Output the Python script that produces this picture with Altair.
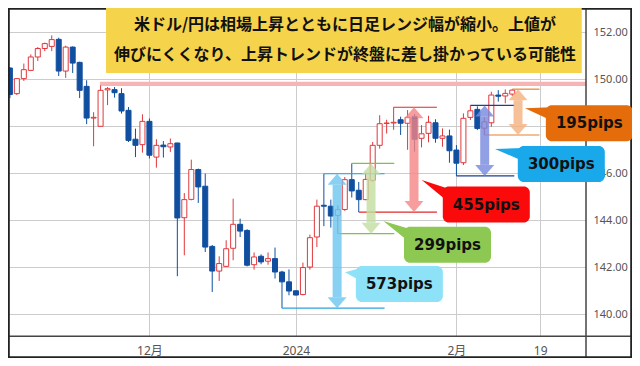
import altair as alt
import pandas as pd

# ---------------- data: USD/JPY daily candles (trading-day index 0..73) ----------------
opens = [150.93, 150.48, 149.39, 150.03, 150.38, 150.95, 151.31, 151.40, 151.70, 150.35,
         151.37, 150.72, 149.70, 148.35, 148.00, 149.55, 149.56, 149.39, 148.68, 147.45,
         147.22, 148.21, 146.69, 147.20, 147.12, 147.29, 144.11, 144.89, 146.16, 145.45,
         142.89, 141.84, 142.04, 142.81, 143.83, 143.57, 142.11, 142.47, 142.26, 142.37,
         141.80, 141.38, 141.00, 140.84, 142.01, 143.29, 144.64, 144.60, 144.21, 144.46,
         145.73, 145.28, 144.88, 145.70, 147.19, 148.12, 148.14, 148.28, 148.13, 148.41,
         147.49, 147.70, 148.15, 147.49, 147.59, 146.99, 146.45, 148.38, 148.72, 147.92,
         148.15, 149.33, 149.29, 149.37]
highs = [151.05, 150.52, 150.05, 150.67, 151.06, 151.37, 151.56, 151.87, 151.77, 151.43,
         151.40, 150.75, 149.96, 148.60, 149.74, 149.67, 149.67, 149.62, 148.82, 147.90,
         148.51, 148.33, 147.45, 147.37, 147.48, 147.30, 145.16, 146.58, 146.20, 145.99,
         142.95, 142.47, 143.15, 144.92, 144.07, 143.62, 142.63, 142.55, 142.63, 142.84,
         141.85, 141.91, 141.02, 142.20, 143.39, 144.88, 145.98, 144.88, 144.64, 145.84,
         146.42, 145.63, 146.01, 147.33, 148.47, 148.28, 148.81, 148.41, 148.69, 148.52,
         148.05, 148.45, 148.30, 147.91, 147.86, 147.20, 148.55, 148.89, 148.85, 148.38,
         149.47, 149.54, 149.57, 149.58]
lows = [150.40, 149.20, 149.33, 149.93, 150.35, 150.78, 151.20, 151.20, 150.14, 150.06,
        150.27, 149.20, 148.09, 147.15, 148.00, 148.90, 149.22, 148.54, 147.33, 146.69,
        146.88, 146.63, 146.24, 146.67, 146.91, 141.62, 142.51, 144.85, 144.74, 142.65,
        140.95, 141.42, 142.04, 142.30, 143.29, 142.04, 141.90, 142.13, 142.11, 141.52,
        140.26, 140.81, 140.80, 140.81, 141.90, 142.86, 143.75, 143.69, 143.43, 144.40,
        144.97, 144.35, 144.85, 145.63, 147.05, 147.69, 147.85, 147.63, 147.00, 146.92,
        147.10, 147.32, 147.30, 147.13, 146.45, 145.89, 146.35, 148.27, 147.84, 147.63,
        147.98, 149.05, 148.98, 149.29]
closes = [150.46, 149.35, 150.03, 150.41, 150.95, 151.31, 151.52, 151.69, 150.35, 151.37,
          150.69, 149.53, 148.35, 148.38, 149.53, 149.60, 149.43, 148.65, 147.40, 147.19,
          148.21, 146.77, 147.19, 147.13, 147.26, 144.10, 144.88, 146.16, 145.42, 142.86,
          141.84, 142.16, 142.79, 143.83, 143.54, 142.09, 142.44, 142.23, 142.37, 141.80,
          141.38, 140.99, 140.82, 141.99, 143.26, 144.60, 144.60, 144.18, 144.45, 145.73,
          145.25, 144.88, 145.74, 147.19, 148.11, 148.14, 148.17, 148.13, 148.38, 147.45,
          147.68, 148.17, 147.49, 147.59, 146.96, 146.43, 148.34, 148.66, 147.91, 148.19,
          149.33, 149.28, 149.40, 149.54]

tick_pos = [21, 42, 65, 77]
tick_text = ["12月", "2024", "2月", "19"]
y_ticks = [140, 142, 144, 146, 148, 150, 152]
y_hidden = [148]  # label covered by the 195pips callout in the original

title_lines = ["米ドル/円は相場上昇とともに日足レンジ幅が縮小。上値が",
               "伸びにくくなり、上昇トレンドが終盤に差し掛かっている可能性"]

range_labels = ["573pips", "299pips", "455pips", "300pips", "195pips"]
range_high = [145.98, 146.42, 148.81, 148.89, 149.58]
range_low = [140.26, 143.43, 144.35, 145.89, 147.63]
high_idx = [46, 50, 56, 67, 73]
low_idx = [40, 48, 51, 65, 69]

resistance_band = [149.71, 149.90]
band_from = 13.9

# ---------------- annotation placement (data units) ----------------
line_end = [54.7, 56.1, 62.2, 73.3, 76.9]
arrow_x = [47.9, 52.76, 58.92, 69.05, 73.83]
box_x = [56.82, 63.72, 69.28, 80.03, 84.05]
box_y = [141.29, 142.96, 144.67, 146.40, 148.13]
tip_x = [49.03, 54.52, 60.03, 70.53, 74.83]
tip_y = [141.79, 143.97, 145.71, 147.03, 148.77]
title_x = [14.78, 82.96]
title_bottom = 150.268
title_text_x = 49.03
title_text_y = [152.31, 151.034]

# ---------------- styles ----------------
RED = "#E0383C"
BLUE = "#104FA0"
line_colors = ["#2AA3DA", "#86BE4E", "#E02828", "#1F3C8F", "#E8802E"]
arrow_colors = ["#6CC6F0", "#C2DEA0", "#F68484", "#7688DD", "#F4B27E"]
box_colors = ["#8EE2F8", "#8DC852", "#FA0A0A", "#19A8EA", "#E46C0A"]

X_DOM = [0.731, 83.57]
Y_DOM = [139.064, 153.034]
W, H = 578, 328.3
KPX = W / (X_DOM[1] - X_DOM[0])
VPX = H / (Y_DOM[1] - Y_DOM[0])
SW, SH = 624, 350

xs = alt.Scale(domain=X_DOM, nice=False, zero=False)
ys = alt.Scale(domain=Y_DOM, nice=False, zero=False)

label_expr = " : ".join(f"datum.value == {p} ? '{t}'" for p, t in zip(tick_pos, tick_text)) + " : ''"
y_label_expr = " || ".join(f"datum.value == {v}" for v in y_hidden) + " ? '' : format(datum.value, '.2f')"
x_axis = alt.Axis(values=tick_pos, labelExpr=label_expr, grid=True, gridColor="#cccccc",
                  gridWidth=1, ticks=False, tickSize=0, domain=False,
                  labelFont="Noto Sans, Noto Sans CJK JP", labelFontSize=12,
                  labelColor="#555555", labelPadding=14, labelBaseline="middle",
                  labelFlush=False, labelOverlap=False, title=None, zindex=0)
y_axis = alt.Axis(values=y_ticks, labelExpr=y_label_expr, orient="right", grid=True,
                  gridColor="#cccccc", gridWidth=1, ticks=False, tickSize=0,
                  domain=False, labelFont="Noto Sans", labelFontSize=11,
                  labelColor="#555555", labelPadding=7, title=None, zindex=0)


def X(f):
    return alt.X(f, type="quantitative", scale=xs, axis=x_axis)


def Y(f):
    return alt.Y(f, type="quantitative", scale=ys, axis=y_axis)


# ---------------- tables ----------------
df = pd.DataFrame({"i": list(range(len(opens))), "open": opens, "high": highs,
                   "low": lows, "close": closes})
df["dir"] = ["up" if c >= o else "down" for o, c in zip(opens, closes)]
df["i0"] = df["i"] - 0.36
df["i1"] = df["i"] + 0.36
df["bot"] = df[["open", "close"]].min(axis=1)
df["top"] = df[["open", "close"]].max(axis=1)

band_df = pd.DataFrame({"x0": [band_from], "x1": [X_DOM[1]],
                        "y0": [resistance_band[0]], "y1": [resistance_band[1]]})

lines_rows = []
for lab, hi, lo, hx, lx, e in zip(range_labels, range_high, range_low, high_idx, low_idx, line_end):
    lines_rows.append({"label": lab, "x0": hx, "x1": e, "y": hi})
    lines_rows.append({"label": lab, "x0": lx, "x1": e, "y": lo})
lines_df = pd.DataFrame(lines_rows)

HEAD_V = 11 / VPX
shaft_df = pd.DataFrame({"label": range_labels, "x": arrow_x,
                         "y0": [h - HEAD_V for h in range_high],
                         "y1": [l + HEAD_V for l in range_low]})
heads_rows = []
for lab, ax, hi, lo in zip(range_labels, arrow_x, range_high, range_low):
    heads_rows.append({"label": lab, "x": ax, "y": hi, "dir": "up"})
    heads_rows.append({"label": lab, "x": ax, "y": lo, "dir": "down"})
heads_df = pd.DataFrame(heads_rows)

BW = 43.5 / KPX
BH = 18 / VPX
box_df = pd.DataFrame({"label": range_labels, "cx": box_x, "cy": box_y,
                       "x0": [b - BW for b in box_x], "x1": [b + BW for b in box_x],
                       "y0": [b - BH for b in box_y], "y1": [b + BH for b in box_y]})
tail_rows = []
for lab, bx, by, tx, ty in zip(range_labels, box_x, box_y, tip_x, tip_y):
    tail_rows.append({"label": lab, "x": tx, "ya": ty, "yb": ty})
    tail_rows.append({"label": lab, "x": bx - BW + 5 / KPX,
                      "ya": by + BH - 2 / VPX, "yb": by + BH - 15 / VPX})
tail_df = pd.DataFrame(tail_rows)

title_box_df = pd.DataFrame({"x0": [title_x[0]], "x1": [title_x[1]],
                             "y0": [title_bottom], "y1": [Y_DOM[1]]})
title_df = pd.DataFrame({"x": [title_text_x] * 2, "y": title_text_y, "t": title_lines})

dummy = pd.DataFrame({"a": [0]})

# ---------------- layers ----------------
band = alt.Chart(band_df).mark_rect(color="#F7B4B4", clip=True).encode(
    x=X("x0"), x2="x1", y=Y("y0"), y2="y1")

wick = alt.Chart(df).mark_rule(strokeWidth=1, clip=True).encode(
    x=X("i"), y=Y("low"), y2="high",
    color=alt.Color("dir:N", scale=alt.Scale(domain=["up", "down"], range=[RED, BLUE]), legend=None))

body = alt.Chart(df).mark_rect(strokeWidth=1, clip=True).encode(
    x=X("i0"), x2="i1", y=Y("bot"), y2="top",
    fill=alt.Fill("dir:N", scale=alt.Scale(domain=["up", "down"], range=["#ffffff", BLUE]), legend=None),
    stroke=alt.Stroke("dir:N", scale=alt.Scale(domain=["up", "down"], range=[RED, BLUE]), legend=None))

lab_line_scale = alt.Scale(domain=range_labels, range=line_colors)
lab_arrow_scale = alt.Scale(domain=range_labels, range=arrow_colors)
lab_box_scale = alt.Scale(domain=range_labels, range=box_colors)

rng_lines = alt.Chart(lines_df).mark_rule(strokeWidth=1.2, clip=False).encode(
    x=X("x0"), x2="x1", y=Y("y"),
    color=alt.Color("label:N", scale=lab_line_scale, legend=None))

shafts = alt.Chart(shaft_df).mark_rule(strokeWidth=9, opacity=0.8, strokeCap="butt").encode(
    x=X("x"), y=Y("y0"), y2="y1",
    color=alt.Color("label:N", scale=lab_arrow_scale, legend=None))

UP_PATH = "M0,0L1,1.158L-1,1.158Z"
DOWN_PATH = "M0,0L1,-1.158L-1,-1.158Z"
heads = alt.Chart(heads_df).mark_point(filled=True, size=361, opacity=0.8).encode(
    x=X("x"), y=Y("y"),
    color=alt.Color("label:N", scale=lab_arrow_scale, legend=None),
    shape=alt.Shape("dir:N", scale=alt.Scale(domain=["up", "down"], range=[UP_PATH, DOWN_PATH]), legend=None))


def rule_px(x1, x2, y1, y2, color, w):
    return alt.Chart(dummy).mark_rule(color=color, strokeWidth=w, clip=False).encode(
        x=alt.value(x1), x2=alt.value(x2), y=alt.value(y1), y2=alt.value(y2))


frame = [
    rule_px(0, SW, H, H, "#444444", 1.5),            # x-axis base line
    rule_px(W, W, 0, SH, "#444444", 1.5),            # y-axis line
    rule_px(0, SW, 0.9, 0.9, "#222222", 1.8),         # outer frame
    rule_px(0.9, 0.9, 0, SH, "#222222", 1.8),
    rule_px(SW - 0.9, SW - 0.9, 0, SH, "#222222", 1.8),
    rule_px(0, SW, SH - 0.9, SH - 0.9, "#222222", 1.8),
]

title_box = alt.Chart(title_box_df).mark_rect(color="#F5D34B", clip=False).encode(
    x=X("x0"), x2="x1", y=Y("y0"), y2="y1")
title_txt = alt.Chart(title_df).mark_text(
    font="Noto Sans CJK JP", fontSize=16, fontWeight="bold", color="#111111",
    align="center", baseline="middle").encode(x=X("x"), y=Y("y"), text="t:N")

tails = alt.Chart(tail_df).mark_area(clip=False, opacity=1).encode(
    x=X("x"), y=Y("ya"), y2="yb", detail="label:N",
    color=alt.Color("label:N", scale=lab_box_scale, legend=None))
boxes = alt.Chart(box_df).mark_rect(cornerRadius=6, clip=False).encode(
    x=X("x0"), x2="x1", y=Y("y0"), y2="y1",
    color=alt.Color("label:N", scale=lab_box_scale, legend=None))
box_txt = alt.Chart(box_df).mark_text(
    font="DejaVu Sans", fontSize=15, fontWeight="bold", color="#111111",
    align="center", baseline="middle").encode(x=X("cx"), y=Y("cy"), text="label:N")

chart = alt.layer(
    band, wick, body, rng_lines, shafts, heads, *frame,
    title_box, title_txt, tails, boxes, box_txt
).resolve_scale(color="independent").properties(
    width=W, height=H,
    padding={"left": 0, "top": 0, "right": SW - W, "bottom": SH - H},
    autosize=alt.AutoSizeParams(type="none"),
    background="#ffffff",
).configure_view(stroke=None)

chart.save("out.html", embed_options={"renderer": "svg", "actions": False})
